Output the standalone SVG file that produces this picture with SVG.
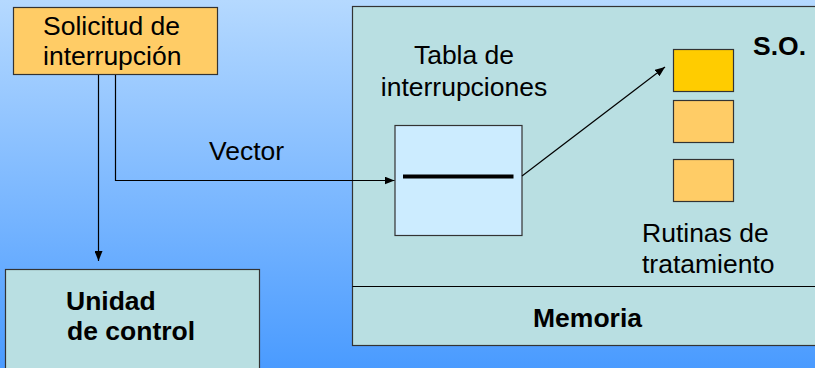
<svg xmlns="http://www.w3.org/2000/svg" width="815" height="368" viewBox="0 0 815 368">
  <defs>
    <linearGradient id="bg" x1="0" y1="0" x2="0" y2="1">
      <stop offset="0" stop-color="#B5D9FF"/>
      <stop offset="1" stop-color="#4A9BFF"/>
    </linearGradient>
    <marker id="arrow" viewBox="0 0 10 8" refX="10" refY="4" markerWidth="10" markerHeight="8" markerUnits="userSpaceOnUse" orient="auto">
      <path d="M0,0 L10,4 L0,8 Z" fill="#000"/>
    </marker>
  </defs>
  <style>
    .box { stroke: #333; stroke-width: 1.2; }
    .panel { fill: #B9DFE2; }
    .t { font-family: "Liberation Sans", Arial, sans-serif; font-size: 26.5px; fill: #000; }
    .b { font-weight: bold; }
    .conn { fill: none; stroke: #000; stroke-width: 1.2; }
  </style>

  <rect x="0" y="0" width="815" height="368" fill="url(#bg)"/>

  <g id="memoria">
    <rect class="box panel" x="352.5" y="6.5" width="470" height="339"/>
    <line x1="352.5" y1="286.5" x2="815" y2="286.5" stroke="#000" stroke-width="1.2"/>
    <text class="t b" x="587.5" y="327" text-anchor="middle">Memoria</text>
  </g>

  <g id="tabla">
    <text class="t" x="464" y="64" text-anchor="middle">Tabla de</text>
    <text class="t" x="464" y="96" text-anchor="middle">interrupciones</text>
    <rect class="box" x="395" y="125.5" width="127" height="110" fill="#CCECFF"/>
    <line x1="403" y1="176.5" x2="513.5" y2="176.5" stroke="#000" stroke-width="4"/>
  </g>

  <g id="so">
    <text class="t b" x="753" y="55">S.O.</text>
    <rect class="box" x="673.5" y="49.5" width="60" height="42" fill="#FFCC00"/>
    <rect class="box" x="673.5" y="100.5" width="60" height="42" fill="#FFCC66"/>
    <rect class="box" x="673.5" y="159.5" width="60" height="42" fill="#FFCC66"/>
    <text class="t" x="642" y="242">Rutinas de</text>
    <text class="t" x="642" y="273">tratamiento</text>
  </g>

  <g id="solicitud">
    <rect class="box" x="13.5" y="7.5" width="204" height="67" fill="#FFCC66"/>
    <text class="t" x="43" y="35">Solicitud de</text>
    <text class="t" x="43" y="65">interrupción</text>
  </g>

  <g id="unidad">
    <rect class="box panel" x="5.5" y="269.5" width="254" height="110"/>
    <text class="t b" x="66" y="310">Unidad</text>
    <text class="t b" x="67" y="340">de control</text>
  </g>

  <g id="connectors">
    <path class="conn" d="M98.5,75 V261" marker-end="url(#arrow)"/>
    <path class="conn" d="M115.5,75 V180.5 H394.5" marker-end="url(#arrow)"/>
    <path class="conn" d="M522,176 L665,67" marker-end="url(#arrow)"/>
    <text class="t" x="209" y="160">Vector</text>
  </g>
</svg>
